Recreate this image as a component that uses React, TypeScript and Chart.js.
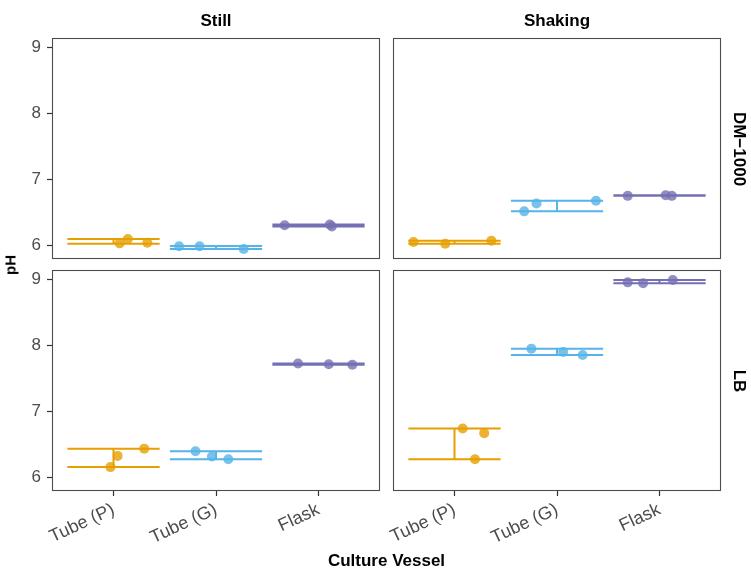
import React, { useEffect, useRef } from "react";
import { Chart, registerables } from "chart.js";
Chart.register(...registerables);

// ---- data ----
const vessels = ["Tube (P)", "Tube (G)", "Flask"];
const conditions = ["Still", "Shaking"];
const media = ["DM\u22121000", "LB"];
const yTicks = [6, 7, 8, 9];
const lineColors = ["#E69F00", "#56B4E9", "#7570B3"];
const pointColors = ["rgba(230,159,0,0.8)", "rgba(86,180,233,0.8)", "rgba(117,112,179,0.8)"];

// vessel index of each replicate point
const replicateVessel = [0, 0, 0, 1, 1, 1, 2, 2, 2];

// Still / DM-1000
const pH_Still_DM1000 = [6.025, 6.09, 6.035, 5.98, 5.98, 5.94, 6.3, 6.31, 6.28];
const jitter_Still_DM1000 = [0.06, 0.14, 0.33, -0.36, -0.16, 0.27, -0.33, 0.11, 0.13];
const low_Still_DM1000 = [6.02, 5.94, 6.28];
const high_Still_DM1000 = [6.09, 5.985, 6.31];

// Shaking / DM-1000
const pH_Shaking_DM1000 = [6.045, 6.02, 6.065, 6.51, 6.63, 6.67, 6.745, 6.755, 6.745];
const jitter_Shaking_DM1000 = [-0.4, -0.09, 0.36, -0.32, -0.2, 0.38, -0.31, 0.06, 0.12];
const low_Shaking_DM1000 = [6.02, 6.51, 6.745];
const high_Shaking_DM1000 = [6.065, 6.67, 6.755];

// Still / LB
const pH_Still_LB = [6.43, 6.32, 6.15, 6.39, 6.31, 6.27, 7.72, 7.71, 7.7];
const jitter_Still_LB = [0.3, 0.04, -0.03, -0.2, -0.04, 0.12, -0.2, 0.1, 0.33];
const low_Still_LB = [6.15, 6.27, 7.7];
const high_Still_LB = [6.43, 6.39, 7.72];

// Shaking / LB
const pH_Shaking_LB = [6.735, 6.665, 6.27, 7.945, 7.895, 7.85, 8.95, 8.935, 8.985];
const jitter_Shaking_LB = [0.08, 0.29, 0.2, -0.25, 0.06, 0.25, -0.31, -0.16, 0.13];
const low_Shaking_LB = [6.27, 7.85, 8.935];
const high_Shaking_LB = [6.735, 7.945, 8.985];

const Y_MIN = 5.788;
const Y_MAX = 9.137;
const ERR_HALF = 0.45;

// ---- layout ----
const W = 751;
const H = 573;
const PANEL_X = [[52, 380], [393, 721]];
const PANEL_Y = [[38, 259], [270, 491]];
const Y_AXIS_W = 52;
const X_AXIS_H = 62;
const FONT = "'Liberation Sans', Arial, Helvetica, sans-serif";

type PanelDef = { col: number; row: number; pH: number[]; jitter: number[]; low: number[]; high: number[] };

const panels: PanelDef[] = [
  { col: 0, row: 0, pH: pH_Still_DM1000, jitter: jitter_Still_DM1000, low: low_Still_DM1000, high: high_Still_DM1000 },
  { col: 1, row: 0, pH: pH_Shaking_DM1000, jitter: jitter_Shaking_DM1000, low: low_Shaking_DM1000, high: high_Shaking_DM1000 },
  { col: 0, row: 1, pH: pH_Still_LB, jitter: jitter_Still_LB, low: low_Still_LB, high: high_Still_LB },
  { col: 1, row: 1, pH: pH_Shaking_LB, jitter: jitter_Shaking_LB, low: low_Shaking_LB, high: high_Shaking_LB },
];

const borderPlugin = {
  id: "panelBorder",
  afterDraw(chart: any) {
    const { ctx, chartArea } = chart;
    ctx.save();
    ctx.strokeStyle = "#4d4d4d";
    ctx.lineWidth = 1.1;
    ctx.strokeRect(
      Math.round(chartArea.left) + 0.5,
      Math.round(chartArea.top) + 0.5,
      Math.round(chartArea.right - chartArea.left) - 1,
      Math.round(chartArea.bottom - chartArea.top) - 1
    );
    ctx.restore();
  },
};

function Panel({ def }: { def: PanelDef }) {
  const ref = useRef<HTMLCanvasElement | null>(null);
  useEffect(() => {
    const canvas = ref.current;
    if (!canvas) return;
    const { col, row, pH, jitter, low, high } = def;
    const showY = col === 0;
    const showX = row === 1;

    const datasets: any[] = [];
    // points (drawn on top -> first)
    for (let v = 0; v < vessels.length; v++) {
      const data: { x: number; y: number }[] = [];
      pH.forEach((val, i) => {
        if (replicateVessel[i] === v) data.push({ x: v + 1 + jitter[i], y: val });
      });
      datasets.push({
        type: "scatter",
        data,
        pointRadius: 5,
        pointHoverRadius: 5,
        pointBackgroundColor: pointColors[v],
        pointBorderWidth: 0,
        borderWidth: 0,
        showLine: false,
      });
    }
    // error bars
    for (let v = 0; v < vessels.length; v++) {
      const c = v + 1;
      datasets.push({
        type: "scatter",
        showLine: true,
        spanGaps: false,
        pointRadius: 0,
        borderColor: lineColors[v],
        borderWidth: 2,
        borderCapStyle: "butt",
        data: [
          { x: c - ERR_HALF, y: high[v] },
          { x: c + ERR_HALF, y: high[v] },
          { x: c, y: null },
          { x: c - ERR_HALF, y: low[v] },
          { x: c + ERR_HALF, y: low[v] },
          { x: c, y: null },
          { x: c, y: low[v] },
          { x: c, y: high[v] },
        ],
      });
    }

    const chart = new Chart(canvas, {
      type: "scatter",
      data: { datasets },
      plugins: [borderPlugin],
      options: {
        responsive: false,
        animation: false,
        events: [],
        layout: {
          padding: {
            left: showY ? PANEL_X[col][0] - Y_AXIS_W : PANEL_X[col][0],
            right: W - PANEL_X[col][1],
            top: PANEL_Y[row][0],
            bottom: showX ? H - PANEL_Y[row][1] - X_AXIS_H : H - PANEL_Y[row][1],
          },
        },
        plugins: { legend: { display: false }, tooltip: { enabled: false } },
        scales: {
          x: {
            type: "linear",
            min: 0.4,
            max: 3.6,
            display: showX,
            afterBuildTicks: (axis: any) => {
              axis.ticks = [1, 2, 3].map((v) => ({ value: v }));
            },
            afterFit: (axis: any) => {
              axis.height = showX ? X_AXIS_H : 0;
            },
            grid: { drawOnChartArea: false, drawTicks: true, tickLength: 5, tickColor: "#333333", tickWidth: 1.2 },
            border: { display: false },
            ticks: {
              autoSkip: false,
              minRotation: 25,
              maxRotation: 25,
              padding: 3,
              color: "#4d4d4d",
              font: { family: FONT, size: 18 },
              callback: (val: any) => vessels[Math.round(Number(val)) - 1] ?? "",
            },
          },
          y: {
            type: "linear",
            min: Y_MIN,
            max: Y_MAX,
            display: showY,
            afterBuildTicks: (axis: any) => {
              axis.ticks = yTicks.map((v) => ({ value: v }));
            },
            afterFit: (axis: any) => {
              axis.width = showY ? Y_AXIS_W : 0;
            },
            grid: { drawOnChartArea: false, drawTicks: true, tickLength: 5, tickColor: "#333333", tickWidth: 1.2 },
            border: { display: false },
            ticks: {
              padding: 6,
              color: "#4d4d4d",
              font: { family: FONT, size: 17 },
              callback: (val: any) => String(val),
            },
          },
        },
      } as any,
    });
    return () => chart.destroy();
  }, [def]);

  return (
    <canvas
      ref={ref}
      width={W}
      height={H}
      style={{ position: "absolute", left: 0, top: 0, width: W, height: H }}
    />
  );
}

const textBase: React.CSSProperties = {
  position: "absolute",
  fontFamily: FONT,
  fontWeight: "bold",
  color: "#000",
  whiteSpace: "nowrap",
  lineHeight: 1,
};

export default function App() {
  return (
    <div style={{ position: "absolute", left: 0, top: 0, width: W, height: H, background: "#fff", overflow: "hidden" }}>
      {panels.map((p, i) => (
        <Panel key={i} def={p} />
      ))}
      {conditions.map((c, i) => (
        <div
          key={c}
          style={{
            ...textBase,
            fontSize: 17,
            left: (PANEL_X[i][0] + PANEL_X[i][1]) / 2,
            top: 20,
            transform: "translate(-50%, -50%)",
          }}
        >
          {c}
        </div>
      ))}
      {media.map((m, i) => (
        <div
          key={m}
          style={{
            ...textBase,
            fontSize: 17,
            left: 739,
            top: (PANEL_Y[i][0] + PANEL_Y[i][1]) / 2,
            transform: "translate(-50%, -50%) rotate(90deg)",
          }}
        >
          {m}
        </div>
      ))}
      <div
        style={{
          ...textBase,
          fontSize: 15,
          left: 10,
          top: (PANEL_Y[0][0] + PANEL_Y[1][1]) / 2,
          transform: "translate(-50%, -50%) rotate(-90deg)",
        }}
      >
        pH
      </div>
      <div
        style={{
          ...textBase,
          fontSize: 17,
          left: (PANEL_X[0][0] + PANEL_X[1][1]) / 2,
          top: 560,
          transform: "translate(-50%, -50%)",
        }}
      >
        Culture Vessel
      </div>
    </div>
  );
}
